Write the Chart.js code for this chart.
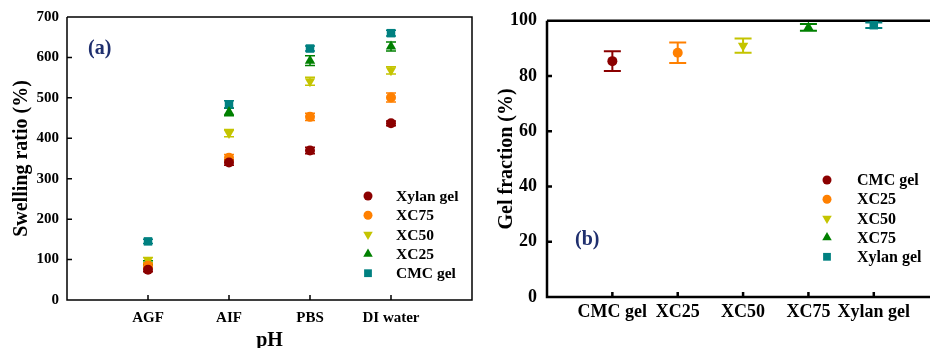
<!DOCTYPE html>
<html>
<head>
<meta charset="utf-8">
<script src="https://cdn.jsdelivr.net/npm/chart.js@4.4.0/dist/chart.umd.min.js"></script>
<style>
    html, body { margin: 0; padding: 0; background: #fff; }
    #wrap { position: relative; width: 936px; height: 348px; overflow: hidden; }
    .box { position: absolute; top: 0; height: 348px; }
    #boxA { left: 0; width: 478px; }
    #boxB { left: 478px; width: 458px; }
</style>
</head>
<body>
<div id="wrap">
    <div class="box" id="boxA"><canvas id="swellChart"></canvas></div>
    <div class="box" id="boxB"><canvas id="gelChart"></canvas></div>
</div>
<script>
// Panel (a): swelling ratio in different media
const media = ['AGF', 'AIF', 'PBS', 'DI water'];
const swellTicks = [0, 100, 200, 300, 400, 500, 600, 700];
const swellNames = ['Xylan gel', 'XC75', 'XC50', 'XC25', 'CMC gel'];
const swellXylan = [75, 340, 370, 437];
const swellXC75 = [85, 352, 453, 501];
const swellXC50 = [99, 413, 541, 568];
const swellXC25 = [92, 465, 592, 627];
const swellCMC = [145, 484, 622, 660];
const swellXylanErr = [5, 7, 8, 6];
const swellXC75Err = [5, 8, 9, 11];
const swellXC50Err = [6, 9, 10, 9];
const swellXC25Err = [5, 9, 12, 11];
const swellCMCErr = [5, 9, 6, 7];

// Panel (b): gel fraction
const gels = ['CMC gel', 'XC25', 'XC50', 'XC75', 'Xylan gel'];
const gelTicks = [0, 20, 40, 60, 80, 100];
const gelFraction = [85.4, 88.4, 91.0, 97.6, 98.4];
const gelError = [3.6, 3.7, 2.6, 1.2, 1.0];

// Colours and markers
const MAROON = '#8B0000';
const ORANGE = '#FF8000';
const YELLOW = '#C4C400';
const GREEN = '#008000';
const TEAL = '#008080';
const SERIF = "'Liberation Serif', 'Times New Roman', serif";

const markerStyles = [
    { color: MAROON, style: 'circle', rot: 0, r: 5 },
    { color: ORANGE, style: 'circle', rot: 0, r: 5 },
    { color: YELLOW, style: 'triangle', rot: 180, r: 6 },
    { color: GREEN, style: 'triangle', rot: 0, r: 6 },
    { color: TEAL, style: 'rect', rot: 0, r: 6 }
];

function makeDataset(label, points, errors, st) {
    return {
        label: label,
        data: points,
        errors: errors,
        backgroundColor: st.color,
        borderColor: st.color,
        pointStyle: st.style,
        pointRotation: st.rot,
        pointRadius: st.r,
        pointBorderWidth: 0,
        showLine: false,
        clip: false
    };
}

// Box, inside tick marks
const framePlugin = {
    id: 'frame',
    beforeDatasetsDraw(chart, args, opts) {
        const { ctx, chartArea: a, scales } = chart;
        ctx.save();
        ctx.strokeStyle = '#000';
        ctx.lineWidth = opts.width;
        ctx.beginPath();
        ctx.moveTo(a.left, a.top);
        ctx.lineTo(a.left, a.bottom);
        ctx.lineTo(a.right, a.bottom);
        if (opts.right) {
            ctx.lineTo(a.right, a.top);
        } else {
            ctx.moveTo(a.right, a.top);
        }
        ctx.lineTo(a.left, a.top);
        scales.x.ticks.forEach(t => {
            const px = scales.x.getPixelForValue(t.value);
            ctx.moveTo(px, a.bottom);
            ctx.lineTo(px, a.bottom - opts.tick);
        });
        scales.y.ticks.forEach(t => {
            const py = scales.y.getPixelForValue(t.value);
            ctx.moveTo(a.left, py);
            ctx.lineTo(a.left + opts.tick, py);
        });
        ctx.stroke();
        ctx.restore();
    }
};

// Vertical error bars with caps
const errorBarPlugin = {
    id: 'errorBars',
    beforeDatasetsDraw(chart, args, opts) {
        const { ctx, scales } = chart;
        ctx.save();
        ctx.lineWidth = opts.width;
        chart.data.datasets.forEach(ds => {
            ds.data.forEach((p, j) => {
                const e = ds.errors[j];
                const px = scales.x.getPixelForValue(p.x);
                const yTop = scales.y.getPixelForValue(p.y + e);
                const yBot = scales.y.getPixelForValue(p.y - e);
                ctx.strokeStyle = ds.borderColor;
                ctx.beginPath();
                ctx.moveTo(px, yTop);
                ctx.lineTo(px, yBot);
                ctx.moveTo(px - opts.cap, yTop);
                ctx.lineTo(px + opts.cap, yTop);
                ctx.moveTo(px - opts.cap, yBot);
                ctx.lineTo(px + opts.cap, yBot);
                ctx.stroke();
            });
        });
        ctx.restore();
    }
};

// Legend inside the plot and panel letter
const insideLegendPlugin = {
    id: 'insideLegend',
    afterDraw(chart, args, opts) {
        const ctx = chart.ctx;
        const base = chart.canvas.parentNode.offsetLeft;
        ctx.save();
        ctx.font = 'bold ' + opts.size + 'px ' + SERIF;
        ctx.textBaseline = 'middle';
        ctx.textAlign = 'left';
        chart.data.datasets.forEach((ds, i) => {
            const y = opts.y + i * opts.step;
            ctx.fillStyle = ds.backgroundColor;
            Chart.helpers.drawPoint(ctx, {
                pointStyle: ds.pointStyle,
                rotation: ds.pointRotation,
                radius: ds.pointRadius - 0.5,
                borderWidth: 0
            }, opts.markerX - base, y);
            ctx.fillStyle = '#000';
            ctx.fillText(ds.label, opts.textX - base, y + 1);
        });
        ctx.font = 'bold 20px ' + SERIF;
        ctx.fillStyle = '#1F2F6E';
        ctx.fillText(opts.panel, opts.panelX - base, opts.panelY);
        ctx.restore();
    }
};

function makeOptions(cfg) {
    const tickFont = { family: SERIF, size: cfg.tickSize, weight: 'bold' };
    const titleFont = { family: SERIF, size: 20, weight: 'bold', lineHeight: 1 };
    return {
        responsive: true,
        maintainAspectRatio: false,
        animation: false,
        layout: { padding: { top: cfg.top, right: cfg.right, left: 0, bottom: 0 } },
        plugins: {
            legend: { display: false },
            tooltip: { enabled: false },
            frame: { width: cfg.lineWidth, tick: 5, right: cfg.boxRight },
            errorBars: { cap: cfg.cap, width: cfg.errWidth },
            insideLegend: cfg.legend
        },
        scales: {
            x: {
                type: 'linear',
                min: 0,
                max: cfg.xMax,
                afterBuildTicks: s => { s.ticks = cfg.cats.map((c, i) => ({ value: i + 1 })); },
                ticks: {
                    callback: v => cfg.cats[v - 1],
                    font: tickFont,
                    color: '#000',
                    padding: cfg.xPad,
                    maxRotation: 0,
                    autoSkip: false
                },
                grid: { display: false, drawTicks: false },
                border: { display: false },
                title: {
                    display: cfg.xTitle !== '',
                    text: cfg.xTitle,
                    font: titleFont,
                    color: '#000',
                    padding: { top: 0, bottom: -3 }
                },
                afterFit: s => { s.height = cfg.xHeight; }
            },
            y: {
                min: cfg.yTicks[0],
                max: cfg.yTicks[cfg.yTicks.length - 1],
                afterBuildTicks: s => { s.ticks = cfg.yTicks.map(v => ({ value: v })); },
                ticks: { font: tickFont, color: '#000', padding: cfg.yPad },
                grid: { display: false, drawTicks: false },
                border: { display: false },
                title: {
                    display: true,
                    text: cfg.yTitle,
                    font: titleFont,
                    color: '#000',
                    padding: { top: cfg.yTitlePad, bottom: 0 }
                },
                afterFit: s => { s.width = cfg.yWidth; }
            }
        }
    };
}

// Chart (a)
const swellValues = [swellXylan, swellXC75, swellXC50, swellXC25, swellCMC];
const swellErrors = [swellXylanErr, swellXC75Err, swellXC50Err, swellXC25Err, swellCMCErr];

new Chart(document.getElementById('swellChart').getContext('2d'), {
    type: 'scatter',
    data: {
        datasets: swellNames.map((n, i) => makeDataset(
            n,
            swellValues[i].map((v, k) => ({ x: k + 1, y: v })),
            swellErrors[i],
            markerStyles[i]
        ))
    },
    options: makeOptions({
        top: 17, right: 6, lineWidth: 1.5, boxRight: true, cap: 5, errWidth: 1.5,
        cats: media, xMax: 5, xPad: 9, xHeight: 48, xTitle: 'pH', tickSize: 15,
        yTicks: swellTicks, yPad: 8, yTitle: 'Swelling ratio (%)', yTitlePad: 12, yWidth: 67,
        legend: { size: 15.5, markerX: 368, textX: 396, y: 196, step: 19.3, panel: '(a)', panelX: 88, panelY: 49 }
    }),
    plugins: [framePlugin, errorBarPlugin, insideLegendPlugin]
});

// Chart (b)
new Chart(document.getElementById('gelChart').getContext('2d'), {
    type: 'scatter',
    data: {
        datasets: gels.map((g, i) => makeDataset(
            g,
            [{ x: i + 1, y: gelFraction[i] }],
            [gelError[i]],
            markerStyles[i]
        ))
    },
    options: makeOptions({
        top: 18, right: 0, lineWidth: 2.5, boxRight: false, cap: 8.5, errWidth: 2,
        cats: gels, xMax: 5.86, xPad: 5, xHeight: 51, xTitle: '', tickSize: 18,
        yTicks: gelTicks, yPad: 10, yTitle: 'Gel fraction (%)', yTitlePad: 19, yWidth: 69,
        legend: { size: 16, markerX: 827, textX: 857, y: 180, step: 19.2, panel: '(b)', panelX: 575, panelY: 240 }
    }),
    plugins: [framePlugin, errorBarPlugin, insideLegendPlugin]
});
</script>
</body>
</html>
